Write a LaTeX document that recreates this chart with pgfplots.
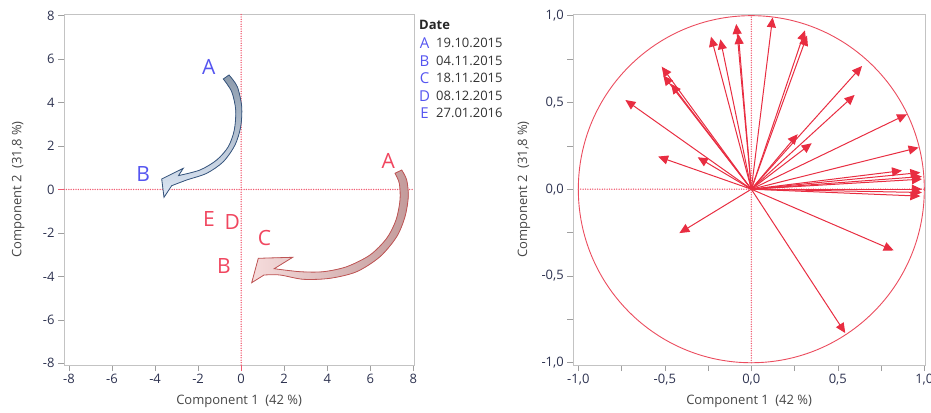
\documentclass[border=0pt]{standalone}
\usepackage{pgfplots}
\usepackage{pgfplotstable}
\pgfplotsset{compat=1.18}
\usepackage{fontspec}
\setmainfont{Open Sans}
\usetikzlibrary{arrows.meta}

\definecolor{tickcol}{RGB}{45,50,80}
\definecolor{labcol}{RGB}{70,70,70}
\definecolor{framecol}{RGB}{195,195,195}
\definecolor{ptblue}{RGB}{85,85,240}
\definecolor{ptred}{RGB}{240,70,95}
\definecolor{dotred}{RGB}{240,90,112}
\definecolor{vecred}{RGB}{232,45,65}
\definecolor{bluedark}{RGB}{140,155,172}
\definecolor{bluelight}{RGB}{222,232,246}
\definecolor{blueline}{RGB}{55,85,125}
\definecolor{reddark}{RGB}{195,155,155}
\definecolor{redlight}{RGB}{246,220,220}
\definecolor{redline}{RGB}{190,85,85}

\pgfplotsset{
  pcabase/.style={
    scale only axis, anchor=south west,
    axis line style={framecol, line width=0.8pt},
    tick style={color=gray!75, line width=0.6pt},
    tick align=outside, major tick length=6pt, minor tick length=6pt,
    xtick pos=bottom, ytick pos=left,
    ticklabel style={font=\fontsize{13}{15}\selectfont, text=tickcol},
    label style={font=\fontsize{13}{15}\selectfont, text=labcol},
    /pgf/number format/assume math mode=true,
    clip=false,
  },
}
\tikzset{zeroline/.style={draw=dotred, line width=1.5pt, line cap=round, dash pattern=on 0pt off 2.4pt}}

% sample scores on the first two components
\pgfplotstableread{
x     y     lab
-1.50 5.65  A
-4.55 0.71  B
}\scoresblue
\pgfplotstableread{
x     y     lab
6.84  1.31  A
-1.49 -1.36 E
-0.41 -1.48 D
1.08  -2.25 C
-0.80 -3.51 B
}\scoresred

% variable loadings (correlation circle)
\pgfplotstableread{
x y u      v
0 0 0.123  0.990
0 0 0.310  0.915
0 0 0.322  0.885
0 0 -0.087 0.952
0 0 -0.075 0.894
0 0 -0.233 0.879
0 0 -0.179 0.864
0 0 -0.518 0.706
0 0 -0.509 0.656
0 0 -0.464 0.607
0 0 -0.728 0.514
0 0 -0.539 0.188
0 0 -0.310 0.184
0 0 -0.416 -0.253
0 0 0.640  0.710
0 0 0.597  0.543
0 0 0.900  0.432
0 0 0.268  0.317
0 0 0.349  0.265
0 0 0.967  0.240
0 0 0.871  0.107
0 0 0.977  0.096
0 0 0.986  0.073
0 0 0.986  0.058
0 0 0.986  0.000
0 0 0.986  -0.019
0 0 0.977  -0.040
0 0 0.823  -0.353
0 0 0.543  -0.829
}\loadings

\begin{document}
\begin{tikzpicture}
\useasboundingbox (0pt,0pt) rectangle (931pt,412pt);

% ---- score plot ----
\begin{axis}[pcabase,
  at={(64pt,47pt)}, width=350.3pt, height=351pt,
  xmin=-8.232, xmax=8.046, ymin=-8.078, ymax=8.078,
  xtick={-8,-6,...,8}, ytick={-8,-6,...,8},
  xlabel={Component 1\enspace(42 \%)},
  ylabel={Component 2\enspace(31,8 \%)},
  xlabel style={at={(axis description cs:0.5,-0.1046)}, anchor=center},
  ylabel style={at={(axis description cs:-0.131,0.5)}, anchor=center},
]
\draw[zeroline] (axis cs:0,-8.078) -- (axis cs:0,8.078);
\draw[zeroline] (axis cs:-8.232,0) -- (axis cs:8.046,0);
% zero ticks in the reference-line colour
\draw[dotred, line width=0.8pt] (axis cs:0,-8.078) -- ++(0pt,-6pt);
\draw[dotred, line width=0.8pt] (axis cs:-8.232,0) -- ++(-6pt,0pt);
\addplot[draw=none, mark=none, nodes near coords, point meta=explicit symbolic,
  nodes near coords style={anchor=center, text=ptblue, font=\fontsize{21}{24}\selectfont}]
  table[meta=lab] {\scoresblue};
\addplot[draw=none, mark=none, nodes near coords, point meta=explicit symbolic,
  nodes near coords style={anchor=center, text=ptred, font=\fontsize{21}{24}\selectfont}]
  table[meta=lab] {\scoresred};
\end{axis}

% ---- loading plot ----
\begin{axis}[pcabase,
  at={(573.3pt,47pt)}, width=351.7pt, height=351pt,
  xmin=-1.029, xmax=1.004, ymin=-1.013, ymax=1.0096,
  xtick={-1,-0.5,...,1}, ytick={-1,-0.5,...,1},
  minor xtick={-0.75,-0.25,0.25,0.75}, minor ytick={-0.75,-0.25,0.25,0.75},
  /pgf/number format/.cd, fixed, fixed zerofill, precision=1, use comma, /pgfplots/.cd,
  xlabel={Component 1\enspace(42 \%)},
  ylabel={Component 2\enspace(31,8 \%)},
  xlabel style={at={(axis description cs:0.5,-0.1046)}, anchor=center},
  ylabel style={at={(axis description cs:-0.140,0.5)}, anchor=center},
]
\draw[vecred!85, line width=0.9pt] (axis cs:0,0) ellipse [x radius=1, y radius=1];
\draw[zeroline] (axis cs:0,-1) -- (axis cs:0,1);
\draw[zeroline] (axis cs:-1,0) -- (axis cs:1,0);
\addplot[draw=vecred, fill=vecred, line width=1pt, quiver={u=\thisrow{u}, v=\thisrow{v}},
  -{Triangle[length=10pt, width=9pt]}]
  table[x=x, y=y] {\loadings};
\end{axis}

% ---- curved arrows marking the drift from A to B ----
\filldraw[blueline, line width=0.8pt, top color=bluedark, bottom color=bluelight]
  plot[smooth] coordinates {(223.3pt,333pt) (231.7pt,320.3pt) (235.7pt,302pt) (234.3pt,282pt)
     (228.3pt,265.3pt) (216.7pt,252pt) (200pt,242pt) (178.5pt,236.4pt)}
  -- (183.3pt,243.7pt) -- (161.7pt,233pt) -- (164pt,214.7pt) -- (171.7pt,226.3pt)
  -- plot[smooth] coordinates {(171.7pt,226.3pt) (186.7pt,232pt) (206.7pt,238.7pt) (223.3pt,250.3pt)
     (235pt,267pt) (240.7pt,285.3pt) (241.7pt,305.3pt) (237.3pt,325.3pt) (229pt,337pt)}
  -- cycle;
\filldraw[redline, line width=0.8pt, left color=redlight, right color=reddark]
  plot[smooth] coordinates {(395pt,238.7pt) (399.3pt,228.7pt) (400pt,212pt) (396pt,192pt)
     (386.7pt,173.7pt) (370pt,157pt) (346.7pt,145.3pt) (323.3pt,140.3pt) (300pt,140.3pt) (274.2pt,143.3pt)}
  -- (292.7pt,154.7pt) -- (258.3pt,153.7pt) -- (251.7pt,129.3pt) -- (264pt,137pt)
  -- plot[smooth] coordinates {(264pt,137pt) (280pt,137pt) (303.3pt,132.7pt) (330pt,133.7pt)
     (356.7pt,140.3pt) (380pt,155.3pt) (396.7pt,175.3pt) (405pt,195.3pt) (408.3pt,215.3pt)
     (406.7pt,232pt) (401.7pt,242pt)}
  -- cycle;

% ---- date key ----
\begin{scope}[every node/.style={font=\fontsize{13}{15}\selectfont, inner sep=0pt}]
\node[anchor=west, font=\bfseries\fontsize{13}{15}\selectfont, text=black!85] at (419pt,387pt) {Date};
\foreach \l/\d/\yy in {A/19.10.2015/368.7, B/04.11.2015/351, C/18.11.2015/333.7,
                       D/08.12.2015/316.3, E/27.01.2016/298.7} {
  \node[anchor=center, text=ptblue, font=\fontsize{15}{17}\selectfont] at (424.5pt,\yy pt) {\l};
  \node[anchor=west, text=black!80] at (436pt,\yy pt) {\d};
}
\end{scope}
\end{tikzpicture}
\end{document}
